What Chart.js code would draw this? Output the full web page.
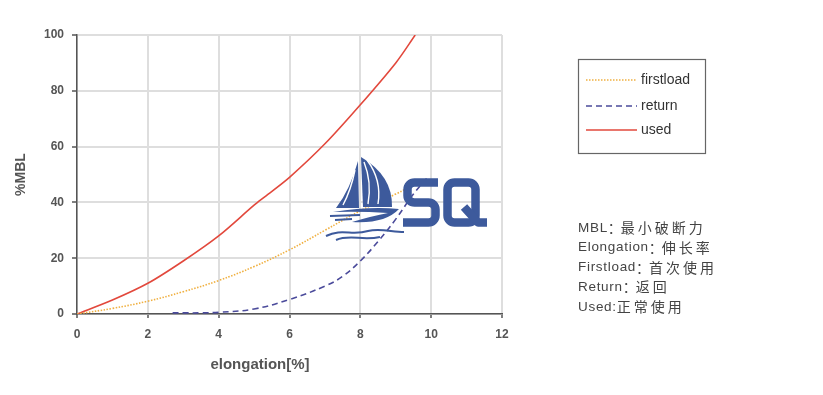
<!DOCTYPE html>
<html><head><meta charset="utf-8">
<script src="https://cdn.jsdelivr.net/npm/chart.js@4"></script>
<style>html,body{margin:0;padding:0;background:#fff}#wrap{position:relative;width:823px;height:395px}</style>
</head><body><div id="wrap"><canvas id="c" width="823" height="395"></canvas></div>
<script>
// ---- data ----
const firstloadX = [0, 1, 2, 3, 4, 5, 6, 7, 8, 9, 9.8];
const firstloadY = [0, 2, 4.6, 8, 12, 17, 23, 30, 37, 43, 48];
const returnX = [2.7, 3, 3.5, 4, 5, 6, 7, 7.5, 8, 8.5, 9, 9.5, 9.9];
const returnY = [0.4, 0.4, 0.4, 0.6, 1.8, 5.2, 10, 13.5, 19, 26, 34, 43, 49];
const usedX = [0, 1, 2, 3, 4, 5, 5.3, 6, 7, 8, 9, 9.55];
const usedY = [0, 5, 11, 19, 28, 39, 42, 49, 61, 75, 90, 100];
const seriesNames = ['firstload', 'return', 'used'];
const notes = ['MBL：最小破断力', 'Elongation：伸长率', 'Firstload：首次使用', 'Return：返回', 'Used:正常使用'];
const xTitle = 'elongation[%]';
const yTitle = '%MBL';

const pts = (xs, ys) => xs.map((x, i) => ({x, y: ys[i]}));
const LAT = '"Liberation Sans", Arial, sans-serif';

function drawNote(ctx, text, x, y) {
  for (const ch of text) {
    const cjk = ch.charCodeAt(0) > 0x2E80;
    ctx.font = cjk ? '14px "Noto Sans CJK SC", sans-serif' : '13.5px ' + LAT;
    ctx.fillText(ch, x, y);
    x += ctx.measureText(ch).width + (cjk ? (ch === '：' ? -1 : 3) : 0.7);
  }
}

function roundPath(ctx, p, r, close) {
  ctx.beginPath();
  ctx.moveTo(p[0][0], p[0][1]);
  const n = p.length;
  for (let i = 1; i < n; i++) {
    if (i < n - 1 || close) {
      const nx = p[(i + 1) % n];
      ctx.arcTo(p[i][0], p[i][1], nx[0], nx[1], r);
    } else ctx.lineTo(p[i][0], p[i][1]);
  }
  if (close) { ctx.arcTo(p[0][0], p[0][1], p[1][0], p[1][1], r); ctx.closePath(); }
  ctx.stroke();
}

const deco = {
  id: 'deco',
  afterDraw(chart) {
    const ctx = chart.ctx;
    const a = chart.chartArea;
    ctx.save();
    // axis titles
    ctx.fillStyle = '#555';
    ctx.font = 'bold 15px ' + LAT;
    ctx.textAlign = 'center'; ctx.textBaseline = 'middle';
    ctx.fillText(xTitle, 260, 365);
    ctx.save();
    ctx.translate(21, (a.top + a.bottom) / 2);
    ctx.rotate(-Math.PI / 2);
    ctx.font = 'bold 14px ' + LAT;
    ctx.fillText(yTitle, 0, 0);
    ctx.restore();
    // legend box
    ctx.strokeStyle = '#666'; ctx.lineWidth = 1.2;
    ctx.strokeRect(578.5, 59.5, 127, 94);
    const rows = [80, 106, 130];
    chart.data.datasets.forEach((ds, i) => {
      ctx.beginPath();
      ctx.strokeStyle = ds.borderColor; ctx.lineWidth = 1.5;
      ctx.setLineDash(ds.borderDash || []);
      ctx.moveTo(586, rows[i]); ctx.lineTo(637, rows[i]); ctx.stroke();
      ctx.setLineDash([]);
      ctx.fillStyle = '#333'; ctx.font = '14px ' + LAT;
      ctx.textBaseline = 'middle'; ctx.textAlign = 'left';
      ctx.fillText(ds.label, 641, rows[i]);
    });
    // notes
    ctx.fillStyle = '#444';
    ctx.textAlign = 'left';
    notes.forEach((t, i) => drawNote(ctx, t, 578, 228 + i * 19.7));
    // watermark logo
    const blue = '#3d5a9c';
    ctx.fillStyle = blue; ctx.strokeStyle = blue;
    ctx.beginPath(); // main sail
    ctx.moveTo(361, 157); ctx.quadraticCurveTo(393, 176, 392, 207); ctx.lineTo(363, 207); ctx.closePath(); ctx.fill();
    ctx.beginPath(); // jib
    ctx.moveTo(358, 161); ctx.quadraticCurveTo(350, 190, 336, 208); ctx.lineTo(359, 208); ctx.closePath(); ctx.fill();
    ctx.strokeStyle = '#fff'; ctx.lineWidth = 1.4;
    ctx.beginPath(); ctx.moveTo(364, 162); ctx.quadraticCurveTo(372, 182, 368, 204); ctx.stroke();
    ctx.beginPath(); ctx.moveTo(367, 160); ctx.quadraticCurveTo(382, 180, 378, 204); ctx.stroke();
    ctx.beginPath(); ctx.moveTo(355, 170); ctx.quadraticCurveTo(351, 190, 343, 205); ctx.stroke();
    ctx.strokeStyle = blue;
    ctx.beginPath(); // hull swoosh
    ctx.moveTo(333, 212); ctx.quadraticCurveTo(370, 206, 399, 209);
    ctx.quadraticCurveTo(385, 224, 352, 222); ctx.quadraticCurveTo(372, 216, 388, 213);
    ctx.quadraticCurveTo(360, 211, 333, 212); ctx.fill();
    ctx.lineWidth = 2;
    [[330, 216, 360], [335, 220, 352]].forEach(w => {
      ctx.beginPath(); ctx.moveTo(w[0], w[1]); ctx.lineTo(w[2], w[1] - 1); ctx.stroke();
    });
    ctx.beginPath(); ctx.moveTo(326, 236); ctx.bezierCurveTo(342, 228, 352, 236, 368, 231); ctx.bezierCurveTo(380, 228, 392, 232, 404, 232); ctx.stroke();
    ctx.beginPath(); ctx.moveTo(336, 240); ctx.bezierCurveTo(350, 234, 362, 241, 380, 237); ctx.stroke();
    // S and Q
    ctx.lineWidth = 8.5; ctx.lineJoin = 'round'; ctx.lineCap = 'butt';
    roundPath(ctx, [[438, 182.5], [407.5, 182.5], [407.5, 202.5], [435.5, 202.5], [435.5, 222.5], [403, 222.5]], 7, false);
    roundPath(ctx, [[461, 182.5], [475.5, 182.5], [475.5, 222.5], [447.5, 222.5], [447.5, 182.5]], 7, true);
    ctx.beginPath(); ctx.moveTo(464, 207); ctx.lineTo(478, 222.5); ctx.lineTo(487, 222.5); ctx.stroke();
    ctx.restore();
  }
};

new Chart(document.getElementById('c'), {
  type: 'line',
  data: {
    datasets: [
      {label: seriesNames[0], data: pts(firstloadX, firstloadY), borderColor: '#f0b040', borderWidth: 1.6, borderDash: [1.5, 1.5], pointRadius: 0, tension: 0.4, fill: false},
      {label: seriesNames[1], data: pts(returnX, returnY), borderColor: '#4b4b9b', borderWidth: 1.6, borderDash: [6, 4], pointRadius: 0, tension: 0.4, fill: false},
      {label: seriesNames[2], data: pts(usedX, usedY), borderColor: '#e2483c', borderWidth: 1.6, pointRadius: 0, tension: 0.3, fill: false}
    ]
  },
  options: {
    responsive: false, animation: false, devicePixelRatio: 1,
    layout: {padding: {left: 0, right: 321, top: 35, bottom: 0}},
    plugins: {legend: {display: false}, tooltip: {enabled: false}},
    scales: {
      x: {
        type: 'linear', min: 0, max: 12,
        ticks: {stepSize: 2, color: '#555', font: {size: 12, weight: 'bold', family: LAT}, padding: 9},
        grid: {color: '#dedede', lineWidth: 2, tickColor: '#555', tickLength: 4, tickWidth: 1.5},
        border: {color: '#555', width: 1.5},
        afterFit(s) { s.height = 81; }
      },
      y: {
        min: 0, max: 100,
        ticks: {stepSize: 20, color: '#555', font: {size: 12, weight: 'bold', family: LAT}, padding: 8},
        grid: {color: '#dedede', lineWidth: 2, tickColor: '#555', tickLength: 5, tickWidth: 1.5},
        border: {color: '#555', width: 1.5},
        afterFit(s) { s.width = 77; }
      }
    }
  },
  plugins: [deco]
});
</script></body></html>
